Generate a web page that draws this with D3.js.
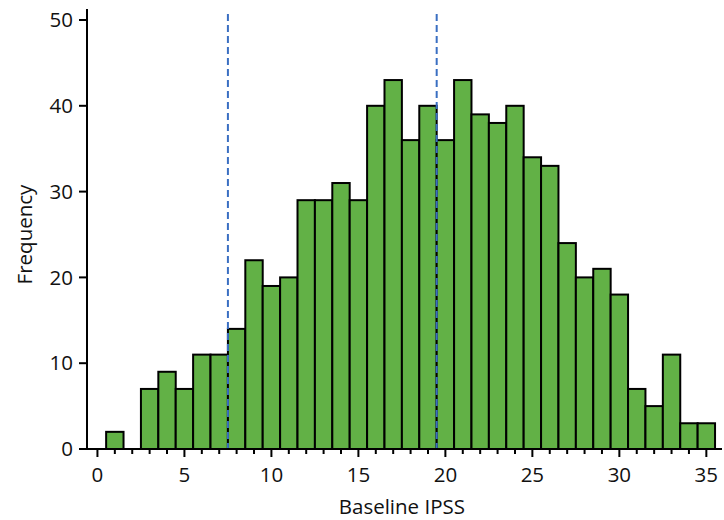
<!DOCTYPE html>
<html>
<head>
<meta charset="utf-8">
<script src="https://cdn.jsdelivr.net/npm/d3@7"></script>
<style>
	body { margin: 0; background: #fff; }
	text { font-family: "Open Sans", "DejaVu Sans", sans-serif; fill: #111; }
</style>
</head>
<body>
<div id="chart"></div>
<script>
// IPSS score per bin (bin centred on the integer)
const scores = d3.range(1, 36);
const counts = [2, 0, 7, 9, 7, 11, 11, 14, 22, 19, 20, 29, 29, 31, 29, 40, 43, 36, 40, 36,
	43, 39, 38, 40, 34, 33, 24, 20, 21, 18, 7, 5, 11, 3, 3];
const cutoffs = [7.5, 19.5];
const xTicks = [0, 5, 10, 15, 20, 25, 30, 35];
const yTicks = [0, 10, 20, 30, 40, 50];

const width = 724, height = 520;
const margin = {top: 9, right: 2, bottom: 71, left: 87};
const fontSize = 20.5;

const svg = d3.select('#chart')
	.append('svg')
	.attr('width', width)
	.attr('height', height);

const x = d3.scaleLinear()
	.domain([-0.6, 35.9])
	.range([margin.left, width - margin.right]);

const y = d3.scaleLinear()
	.domain([0, 50])
	.range([449, 20]);

// bars
svg.append('g')
	.selectAll('rect')
	.data(scores.map((s, i) => ({score: s, count: counts[i]})).filter(d => d.count > 0))
	.join('rect')
	.attr('x', d => x(d.score - 0.5))
	.attr('y', d => y(d.count))
	.attr('width', d => x(d.score + 0.5) - x(d.score - 0.5))
	.attr('height', d => y(0) - y(d.count))
	.attr('fill', '#62b146')
	.attr('stroke', '#000')
	.attr('stroke-width', 2);

// cutoff lines
svg.append('g')
	.selectAll('line')
	.data(cutoffs)
	.join('line')
	.attr('x1', d => x(d))
	.attr('x2', d => x(d))
	.attr('y1', 14)
	.attr('y2', y(0))
	.attr('stroke', '#3a6fc2')
	.attr('stroke-width', 2)
	.attr('stroke-dasharray', '7,4');

// x axis
const xAxis = svg.append('g')
	.attr('transform', `translate(0,${y(0)})`);

xAxis.append('line')
	.attr('x1', margin.left)
	.attr('x2', width - margin.right)
	.attr('stroke', '#000')
	.attr('stroke-width', 2);

xAxis.selectAll('line.minor')
	.data(d3.range(0, 36))
	.join('line')
	.attr('class', 'minor')
	.attr('x1', d => x(d))
	.attr('x2', d => x(d))
	.attr('y2', d => d % 5 === 0 ? 8 : 5)
	.attr('stroke', '#000')
	.attr('stroke-width', 2);

xAxis.selectAll('text')
	.data(xTicks)
	.join('text')
	.attr('x', d => x(d))
	.attr('y', 33)
	.attr('text-anchor', 'middle')
	.attr('font-size', fontSize)
	.text(d => d);

svg.append('text')
	.attr('x', x(17.5))
	.attr('y', 514)
	.attr('text-anchor', 'middle')
	.attr('font-size', fontSize)
	.text('Baseline IPSS');

// y axis
const yAxis = svg.append('g')
	.attr('transform', `translate(${margin.left},0)`);

yAxis.append('line')
	.attr('y1', margin.top)
	.attr('y2', y(0) + 1)
	.attr('stroke', '#000')
	.attr('stroke-width', 2);

yAxis.selectAll('line.tick')
	.data(yTicks)
	.join('line')
	.attr('class', 'tick')
	.attr('x1', -8)
	.attr('y1', d => y(d))
	.attr('y2', d => y(d))
	.attr('stroke', '#000')
	.attr('stroke-width', 2);

yAxis.selectAll('text')
	.data(yTicks)
	.join('text')
	.attr('x', -14)
	.attr('y', d => y(d))
	.attr('dy', '0.35em')
	.attr('text-anchor', 'end')
	.attr('font-size', fontSize)
	.text(d => d);

svg.append('text')
	.attr('transform', `translate(32,${y(25)}) rotate(-90)`)
	.attr('text-anchor', 'middle')
	.attr('font-size', fontSize)
	.text('Frequency');
</script>
</body>
</html>
